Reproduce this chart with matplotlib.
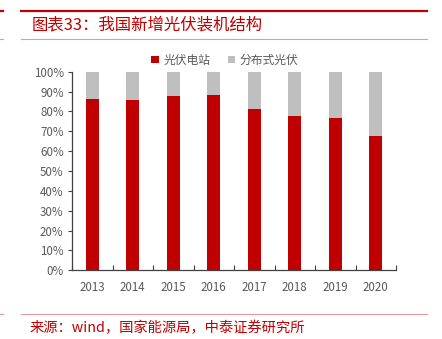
import matplotlib
matplotlib.use("Agg")
import matplotlib.pyplot as plt
from matplotlib.lines import Line2D

plt.rcParams["font.family"] = ["Noto Sans CJK SC", "DejaVu Sans"]

years = ["2013", "2014", "2015", "2016", "2017", "2018", "2019", "2020"]
station = [86.3, 85.7, 87.9, 88.4, 81.4, 77.5, 76.5, 67.6]
distributed = [100 - v for v in station]

C_RED = "#C00000"
C_GREY = "#BFBFBF"
C_TXT = "#595959"

W, H = 442, 339
fig = plt.figure(figsize=(W / 100, H / 100), dpi=100)


def fx(px):
    return px / W


def fy(py):
    return 1 - py / H


# 页眉 / 页脚装饰线
fig.add_artist(Line2D([fx(21), fx(427)], [fy(11), fy(11)], color="#C00000", lw=1.6))
fig.add_artist(Line2D([fx(0), fx(3)], [fy(11), fy(11)], color="#C00000", lw=1.6))
fig.add_artist(Line2D([fx(21), fx(427)], [fy(38.5), fy(38.5)], color="#E59A9A", lw=0.8))
fig.add_artist(Line2D([fx(0), fx(3)], [fy(38.5), fy(38.5)], color="#E59A9A", lw=0.8))
fig.add_artist(Line2D([fx(21), fx(427)], [fy(314), fy(314)], color="#E59A9A", lw=0.8))
fig.add_artist(Line2D([fx(0), fx(3)], [fy(314), fy(314)], color="#E59A9A", lw=0.8))

fig.text(fx(32), fy(25), "图表33：我国新增光伏装机结构", color="#C00000",
         fontsize=11.8, va="center", ha="left")
fig.text(fx(30), fy(328), "来源：wind，国家能源局，中泰证券研究所", color="#C00000",
         fontsize=10.3, va="center", ha="left")

ax = fig.add_axes([fx(72), fy(270.3), fx(396) - fx(72), fy(71.7) - fy(270.3)])
x = list(range(len(years)))
ax.bar(x, station, width=0.32, color=C_RED, edgecolor="none", label="光伏电站")
ax.bar(x, distributed, width=0.32, bottom=station, color=C_GREY, edgecolor="none",
       label="分布式光伏")

ax.set_xlim(-0.5, len(years) - 0.5)
ax.set_ylim(0, 100)
ax.set_yticks(range(0, 101, 10))
ax.set_yticklabels([f"{v}%" for v in range(0, 101, 10)])
ax.set_xticks(x)
ax.set_xticklabels(years)
ax.set_xticks([i - 0.5 for i in range(len(years) + 1)], minor=True)

for s in ["top", "right"]:
    ax.spines[s].set_visible(False)
for s in ["left", "bottom"]:
    ax.spines[s].set_color("#404040")
    ax.spines[s].set_linewidth(0.9)

ax.tick_params(axis="y", direction="out", length=3, width=0.8, color="#404040",
               labelsize=8.3, labelcolor=C_TXT, pad=3)
ax.tick_params(axis="x", which="major", length=0, labelsize=8.3, labelcolor=C_TXT, pad=8)
ax.tick_params(axis="x", which="minor", direction="in", length=3.5, width=0.8,
               color="#404040")

leg = fig.legend(loc="center", bbox_to_anchor=(fx(225), fy(60)), ncol=2, frameon=False,
                 fontsize=8.5, handlelength=0.6, handleheight=0.6, handletextpad=0.4,
                 columnspacing=1.5, labelcolor=C_TXT)

fig.savefig("out.png", dpi=100)
